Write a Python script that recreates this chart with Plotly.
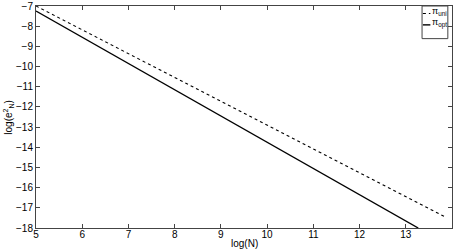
import plotly.graph_objects as go

# data: endpoints of straight lines (log N, log e^2)
logN_uni = [5.0, 13.85]
loge_uni = [-7.0, -17.45]
logN_opt = [5.0, 13.27]
loge_opt = [-7.25, -18.0]
xticks = [5, 6, 7, 8, 9, 10, 11, 12, 13, 14]
yticks = [-7, -8, -9, -10, -11, -12, -13, -14, -15, -16, -17, -18]
series_names = ["π<sub>uni</sub>", "π<sub>opt</sub>"]

fig = go.Figure()
fig.add_trace(go.Scatter(x=logN_uni, y=loge_uni, mode="lines", name=series_names[0],
                         line=dict(color="black", width=1.1, dash="dot"), showlegend=False))
fig.add_trace(go.Scatter(x=logN_opt, y=loge_opt, mode="lines", name=series_names[1],
                         line=dict(color="black", width=1.4), showlegend=False))

axis_common = dict(showgrid=False, zeroline=False, showline=True, linecolor="#444",
                   linewidth=1, mirror="ticks", ticks="inside", ticklen=4,
                   tickcolor="#444", tickfont=dict(size=10, color="black"),
                   automargin=False)
fig.update_xaxes(range=[5, 14], tickvals=xticks, ticktext=[str(v) for v in xticks],
                 ticklabelstandoff=-3, **axis_common)
fig.update_yaxes(range=[-18, -7], tickvals=yticks,
                 ticktext=["\u2212" + str(-v) for v in yticks], **axis_common)

# axis titles
fig.add_annotation(text="log(N)", xref="paper", yref="paper", x=0.5, y=-0.068,
                   xanchor="center", yanchor="middle", showarrow=False, font=dict(size=10))
fig.add_annotation(text="log(e<sup>2</sup><sub>N</sub>)", xref="paper", yref="paper",
                   x=-0.068, y=0.5, textangle=-90, xanchor="center", yanchor="middle",
                   showarrow=False, font=dict(size=10))

# custom compact legend
fig.add_shape(type="rect", xref="paper", yref="paper", x0=0.928, x1=0.990, y0=0.853, y1=1.0,
              line=dict(color="#444", width=1), fillcolor="white", layer="above")
fig.add_shape(type="line", xref="paper", yref="paper", x0=0.930, x1=0.948, y0=0.966, y1=0.966,
              line=dict(color="black", width=1.1, dash="dot"), layer="above")
fig.add_shape(type="line", xref="paper", yref="paper", x0=0.930, x1=0.948, y0=0.915, y1=0.915,
              line=dict(color="black", width=1.4), layer="above")
fig.add_annotation(text=series_names[0], xref="paper", yref="paper", x=0.948, y=0.975,
                   xanchor="left", yanchor="middle", showarrow=False, font=dict(size=9))
fig.add_annotation(text=series_names[1], xref="paper", yref="paper", x=0.948, y=0.922,
                   xanchor="left", yanchor="middle", showarrow=False, font=dict(size=9))

fig.update_layout(
    width=456, height=249,
    margin=dict(l=36, r=4, t=6, b=21),
    paper_bgcolor="white", plot_bgcolor="white",
    font=dict(family="Liberation Sans, Arial, sans-serif", size=10, color="black"),
    showlegend=False,
)
fig.write_html("out.html", config={"displayModeBar": False},
               post_script="document.body.style.margin='0';document.body.style.overflow='hidden';")
